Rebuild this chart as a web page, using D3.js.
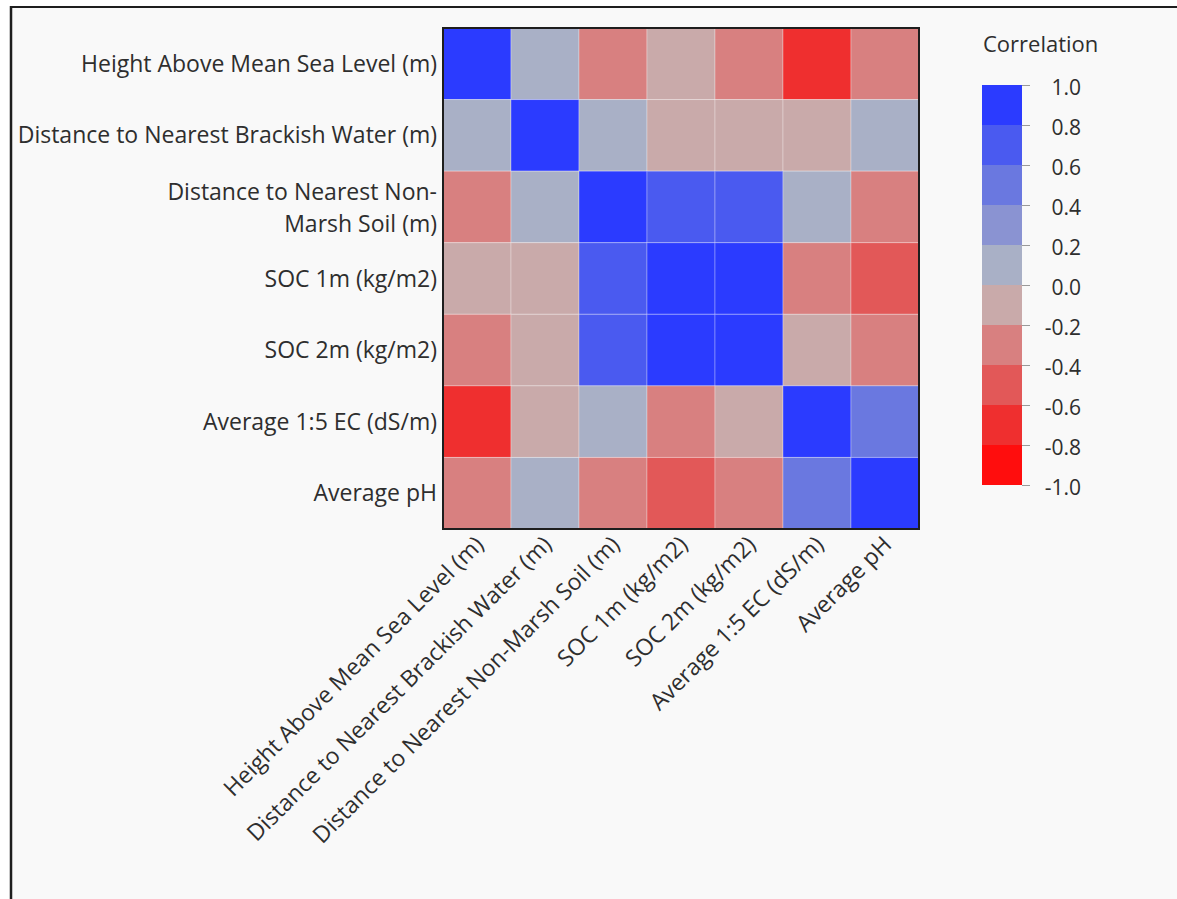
<!DOCTYPE html>
<html>
<head>
<meta charset="utf-8">
<script src="https://cdn.jsdelivr.net/npm/d3@7"></script>
<style>
  body { margin: 0; background: #ffffff; }
  text { font-family: "Open Sans", "Noto Sans", sans-serif; fill: #2e2e2e; }
</style>
</head>
<body>
<div id="chart"></div>
<script>
// variables, in row / column order
const variables = [
    "Height Above Mean Sea Level (m)",
    "Distance to Nearest Brackish Water (m)",
    "Distance to Nearest Non-Marsh Soil (m)",
    "SOC 1m (kg/m2)",
    "SOC 2m (kg/m2)",
    "Average 1:5 EC (dS/m)",
    "Average pH"
];

// row labels on the left (one wraps to two lines)
const rowLabels = [
    ["Height Above Mean Sea Level (m)"],
    ["Distance to Nearest Brackish Water (m)"],
    ["Distance to Nearest Non-", "Marsh Soil (m)"],
    ["SOC 1m (kg/m2)"],
    ["SOC 2m (kg/m2)"],
    ["Average 1:5 EC (dS/m)"],
    ["Average pH"]
];

// correlations, estimated from the colour bins
const corrHeight   = [ 1.0,  0.1, -0.3, -0.1, -0.3, -0.7, -0.3];
const corrBrackish = [ 0.1,  1.0,  0.1, -0.1, -0.1, -0.1,  0.1];
const corrNonMarsh = [-0.3,  0.1,  1.0,  0.7,  0.7,  0.1, -0.3];
const corrSoc1     = [-0.1, -0.1,  0.7,  1.0,  0.9, -0.3, -0.5];
const corrSoc2     = [-0.3, -0.1,  0.7,  0.9,  1.0, -0.1, -0.3];
const corrEc       = [-0.7, -0.1,  0.1, -0.3, -0.1,  1.0,  0.5];
const corrPh       = [-0.3,  0.1, -0.3, -0.5, -0.3,  0.5,  1.0];
const corrRows = [corrHeight, corrBrackish, corrNonMarsh, corrSoc1, corrSoc2, corrEc, corrPh];

// legend bins from -1 to 1
const legendColors = ["#ff0d0d", "#ef2f2f", "#e25858", "#d88080", "#c9aaaa",
                      "#a9b0c6", "#8a93d2", "#6a78e0", "#4a5af0", "#2b3bff"];
const legendTicks = [-1.0, -0.8, -0.6, -0.4, -0.2, 0.0, 0.2, 0.4, 0.6, 0.8, 1.0];

const W = 1177, H = 899;

const svg = d3.select("#chart")
    .append("svg")
    .attr("width", W)
    .attr("height", H);

// panel background + frame (left and top edges visible)
svg.append("rect")
    .attr("x", 11).attr("y", 7)
    .attr("width", W - 11).attr("height", H - 7)
    .attr("fill", "#f9f9f9");
svg.append("line")
    .attr("x1", 11).attr("x2", W).attr("y1", 7).attr("y2", 7)
    .attr("stroke", "#1e1e1e").attr("stroke-width", 2);
svg.append("line")
    .attr("x1", 11).attr("x2", 11).attr("y1", 6).attr("y2", H)
    .attr("stroke", "#1e1e1e").attr("stroke-width", 2.5);

const plot = { left: 443, top: 28, width: 476, height: 501 };

const x = d3.scaleBand()
    .domain(variables)
    .range([plot.left, plot.left + plot.width]);

const y = d3.scaleBand()
    .domain(variables)
    .range([plot.top, plot.top + plot.height]);

const color = d3.scaleQuantize()
    .domain([-1, 1])
    .range(legendColors);

const cells = [];
corrRows.forEach((row, i) => {
    row.forEach((v, j) => cells.push({ row: variables[i], col: variables[j], value: v }));
});

svg.append("g")
    .selectAll("rect")
    .data(cells)
    .enter()
    .append("rect")
    .attr("x", d => x(d.col))
    .attr("y", d => y(d.row))
    .attr("width", x.bandwidth())
    .attr("height", y.bandwidth())
    .attr("fill", d => color(d.value))
    .attr("stroke", "rgba(255,255,255,0.3)")
    .attr("stroke-width", 1);

svg.append("rect")
    .attr("x", plot.left)
    .attr("y", plot.top)
    .attr("width", plot.width)
    .attr("height", plot.height)
    .attr("fill", "none")
    .attr("stroke", "#1e1e1e")
    .attr("stroke-width", 2);

// row labels (each line its own text so wrapped lines don't collide)
const rowLines = [];
rowLabels.forEach((lines, i) => {
    lines.forEach((t, k) => rowLines.push({ t, k, n: lines.length, v: variables[i] }));
});

svg.append("g")
    .selectAll("text")
    .data(rowLines)
    .enter()
    .append("text")
    .attr("text-anchor", "end")
    .style("font-size", "23px")
    .attr("x", plot.left - 6)
    .attr("y", d => y(d.v) + y.bandwidth() / 2 + (d.k - (d.n - 1) / 2) * 32 + (d.n > 1 ? 1 : 0))
    .attr("dy", "0.35em")
    .text(d => d.t);

// column labels, rotated
svg.append("g")
    .selectAll("text")
    .data(variables)
    .enter()
    .append("text")
    .attr("text-anchor", "end")
    .style("font-size", "23px")
    .attr("transform", d => `translate(${x(d) + x.bandwidth() / 2 + 8},${plot.top + plot.height + 17}) rotate(-45)`)
    .text(d => d);

// legend
const legend = { left: 982, top: 85, width: 40, height: 400 };

const ly = d3.scaleLinear()
    .domain([-1, 1])
    .range([legend.top + legend.height, legend.top]);

svg.append("g")
    .selectAll("rect")
    .data(legendColors)
    .enter()
    .append("rect")
    .attr("x", legend.left)
    .attr("y", (d, i) => ly(legendTicks[i + 1]))
    .attr("width", legend.width)
    .attr("height", (d, i) => ly(legendTicks[i]) - ly(legendTicks[i + 1]))
    .attr("fill", d => d);

const legendAxis = svg.append("g")
    .attr("transform", `translate(${legend.left + legend.width},0)`)
    .call(d3.axisRight(ly)
        .tickValues(legendTicks)
        .tickFormat(d3.format(".1f"))
        .tickSize(8)
        .tickPadding(0));

legendAxis.select(".domain").remove();
legendAxis.selectAll("line").attr("stroke", "#9a9a9a");
legendAxis.selectAll("text")
    .attr("x", 59)
    .attr("dy", "0.45em")
    .attr("text-anchor", "end")
    .style("font-family", "\"Open Sans\", \"Noto Sans\", sans-serif")
    .style("font-size", "21px")
    .style("fill", "#2e2e2e")
    .text(d => d3.format(".1f")(d).replace("−", "-"));

svg.append("text")
    .attr("x", legend.left + 1)
    .attr("y", 52)
    .style("font-size", "22px")
    .text("Correlation");
</script>
</body>
</html>
